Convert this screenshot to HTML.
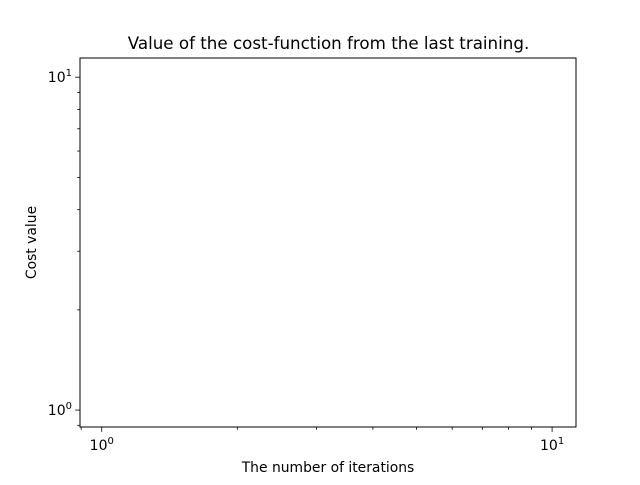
<!DOCTYPE html>
<html><head><meta charset="utf-8"><style>
body{margin:0;background:#fff;}
svg text{font-family:"DejaVu Sans","Liberation Sans",sans-serif;fill:#000;}
</style></head><body>
<svg id="chart" width="640" height="480" xmlns="http://www.w3.org/2000/svg">
<rect width="640" height="480" fill="#fff"/>
</svg>
<script>
const iterations = [];
const costValues = [];
const xMajorTicks = [1, 10];
const xMinorTicks = [0.9, 2, 3, 4, 5, 6, 7, 8, 9];
const yMajorTicks = [1, 10];
const yMinorTicks = [0.9, 2, 3, 4, 5, 6, 7, 8, 9];
const xDomain = [0.8947, 11.3];
const yDomain = [0.8895, 11.42];

const L=80,R=576,T=58,B=427;
const lx=Math.log10;
function xs(v){return L+(lx(v)-lx(xDomain[0]))/(lx(xDomain[1])-lx(xDomain[0]))*(R-L);}
function ys(v){return B-(lx(v)-lx(yDomain[0]))/(lx(yDomain[1])-lx(yDomain[0]))*(B-T);}
const svg=document.getElementById('chart');
const ns='http://www.w3.org/2000/svg';
function mk(tag,attrs,parent){const e=document.createElementNS(ns,tag);for(const k in attrs)e.setAttribute(k,attrs[k]);(parent||svg).appendChild(e);return e;}

xMinorTicks.forEach(v=>{const x=xs(v);if(x<L-0.5||x>R+0.5)return;
const t=mk('line',{x1:x,x2:x,y1:B,y2:B+2.8,stroke:'#000','stroke-width':0.8});

});
yMinorTicks.forEach(v=>{const y=ys(v);if(y<T-0.5||y>B+0.5)return;
const t=mk('line',{x1:L-2.8,x2:L,y1:y,y2:y,stroke:'#000','stroke-width':0.8});

});
xMajorTicks.forEach(v=>{const x=xs(v);
const t=mk('line',{x1:x,x2:x,y1:B,y2:B+4.9,stroke:'#000','stroke-width':0.8});


const tx=mk('text',{x:x,y:B+23,'text-anchor':'middle','font-size':14});


tx.innerHTML='10<tspan dy="-6" font-size="10">'+Math.round(lx(v))+'</tspan>';});
yMajorTicks.forEach(v=>{const y=ys(v);
const t=mk('line',{x1:L-4.9,x2:L,y1:y,y2:y,stroke:'#000','stroke-width':0.8});


const tx=mk('text',{x:L-8,y:y+5,'text-anchor':'end','font-size':14});


tx.innerHTML='10<tspan dy="-6" font-size="10">'+Math.round(lx(v))+'</tspan>';});

if(iterations.length){const pts=iterations.map((v,i)=>xs(v)+','+ys(costValues[i])).join(' ');
const pl=mk('polyline',{points:pts,fill:'none',stroke:'#1f77b4','stroke-width':1.5});

}

const fr=mk('rect',{x:L,y:T,width:R-L,height:B-T,fill:'none',stroke:'#000','stroke-width':1});


const ti=mk('text',{x:(L+R)/2+0.5,y:49,'text-anchor':'middle','font-size':16.7});


ti.textContent='Value of the cost-function from the last training.';
const xl=mk('text',{x:(L+R)/2,y:472,'text-anchor':'middle','font-size':13.9});


xl.textContent='The number of iterations';
const yl=mk('text',{x:36,y:(T+B)/2,'text-anchor':'middle','font-size':13.9,transform:'rotate(-90 36 '+((T+B)/2)+')'});


yl.textContent='Cost value';
</script>
</body></html>
